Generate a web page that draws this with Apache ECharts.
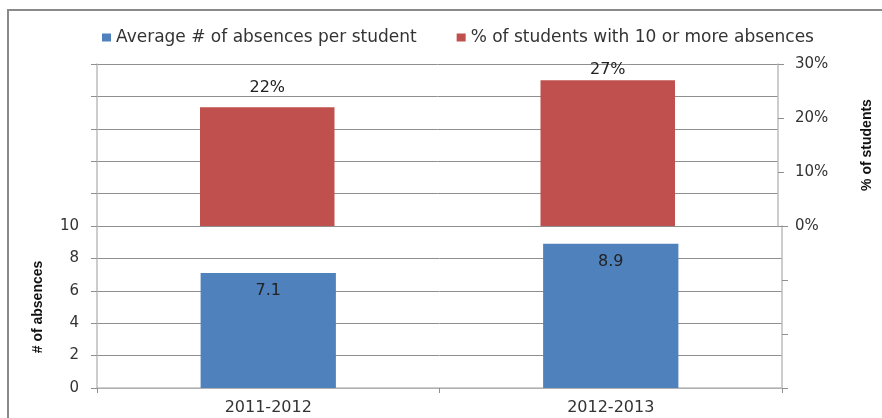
<!DOCTYPE html>
<html>
<head>
<meta charset="utf-8">
<script src="https://cdn.jsdelivr.net/npm/echarts@6/dist/echarts.min.js"></script>
<style>
  html, body { margin: 0; padding: 0; background: #fff; }
  #chart { width: 882px; height: 418px; }
</style>
</head>
<body>
<div id="chart"></div>
<script>
// School years on the category axis
const schoolYears = ['2011-2012', '2012-2013'];
// Average number of absences per student
const avgAbsences = [7.1, 8.9];
// Percent of students with 10 or more absences
const pctTenPlus = [22, 27];

const seriesNames = ['Average # of absences per student', '% of students with 10 or more absences'];

// label gap above each percent bar (the tallest one is kept inside the plot)
const pctLabelGap = [11, 2];

const tickFont = { fontFamily: 'DejaVu Sans', fontSize: 15, color: '#333' };
const axisGray = '#bdbdbd';
const gridGray = '#8f8f8f';
const titleFont = { fontFamily: 'Liberation Sans', fontWeight: 'bold', fontSize: 14, color: '#111' };

const chart = echarts.init(document.getElementById('chart'));

chart.setOption({
  animation: false,
  backgroundColor: '#fff',
  graphic: [{
    type: 'rect',
    shape: { x: 8, y: 10, width: 1000, height: 600 },
    style: { fill: 'none', stroke: '#8a8a8a', lineWidth: 2 },
    silent: true
  }],
  legend: {
    left: 97,
    top: 24,
    itemWidth: 9,
    itemHeight: 8,
    itemGap: 40,
    icon: 'rect',
    textStyle: { fontFamily: 'DejaVu Sans', fontSize: 17, color: '#333' },
    data: seriesNames
  },
  grid: [
    { left: 97, right: 100, top: 64, height: 162 },
    { left: 97, right: 100, top: 226, height: 162 }
  ],
  xAxis: [
    {
      type: 'category', gridIndex: 0, data: schoolYears,
      axisLine: { show: false }, axisTick: { show: false }, axisLabel: { show: false }
    },
    {
      type: 'category', gridIndex: 1, data: schoolYears,
      axisLine: { lineStyle: { color: axisGray, width: 1.5 } },
      axisTick: { show: true, length: 5, lineStyle: { color: gridGray } },
      axisLabel: Object.assign({}, tickFont, { margin: 12, fontSize: 16 })
    }
  ],
  yAxis: [
    // upper panel, left side: continuation of the absences scale, ticks only
    {
      type: 'value', gridIndex: 0, position: 'left', min: 10, max: 20, interval: 2,
      axisLine: { show: true, lineStyle: { color: axisGray, width: 1.5 } },
      axisTick: { show: true, length: 6, lineStyle: { color: gridGray } },
      axisLabel: { show: false },
      splitLine: { show: true, lineStyle: { color: gridGray, width: 1 } }
    },
    // upper panel, right side: percent of students
    {
      type: 'value', gridIndex: 0, position: 'right', min: 0, max: 30, interval: 10,
      name: '% of students', nameLocation: 'middle', nameGap: 82, nameRotate: 90,
      nameTextStyle: titleFont,
      axisLine: { show: true, lineStyle: { color: axisGray, width: 1.5 } },
      axisTick: { show: true, length: 6, lineStyle: { color: gridGray } },
      axisLabel: Object.assign({ margin: 17, formatter: v => v + '%' }, tickFont),
      splitLine: { show: false }
    },
    // lower panel, left side: number of absences
    {
      type: 'value', gridIndex: 1, position: 'left', min: 0, max: 10, interval: 2,
      name: '# of absences', nameLocation: 'middle', nameGap: 52, nameRotate: 90,
      nameTextStyle: titleFont,
      axisLine: { show: true, lineStyle: { color: axisGray, width: 1.5 } },
      axisTick: { show: true, length: 6, lineStyle: { color: gridGray } },
      axisLabel: Object.assign({ margin: 18 }, tickFont),
      splitLine: { show: true, lineStyle: { color: gridGray, width: 1 } }
    },
    // lower panel, right side: continuation of the percent scale, ticks only
    {
      type: 'value', gridIndex: 1, position: 'right', min: -30, max: 0, interval: 10,
      axisLine: { show: true, lineStyle: { color: axisGray, width: 1.5 } },
      axisTick: { show: true, length: 6, lineStyle: { color: gridGray } },
      axisLabel: { show: false },
      splitLine: { show: false }
    }
  ],
  series: [
    {
      name: seriesNames[0],
      type: 'bar',
      xAxisIndex: 1,
      yAxisIndex: 2,
      data: avgAbsences,
      barWidth: '39.5%',
      itemStyle: { color: '#4F81BD' },
      label: {
        show: true, position: 'insideTop', distance: 10,
        fontFamily: 'DejaVu Sans', fontSize: 16, color: '#222',
        formatter: p => p.value.toFixed(1)
      }
    },
    {
      name: seriesNames[1],
      type: 'bar',
      xAxisIndex: 0,
      yAxisIndex: 1,
      data: pctTenPlus.map((v, i) => ({ value: v, label: { distance: pctLabelGap[i] } })),
      barWidth: '39.5%',
      itemStyle: { color: '#C0504D' },
      label: {
        show: true, position: 'top',
        fontFamily: 'DejaVu Sans', fontSize: 16, color: '#222',
        formatter: p => p.value + '%'
      }
    }
  ]
});
</script>
</body>
</html>
